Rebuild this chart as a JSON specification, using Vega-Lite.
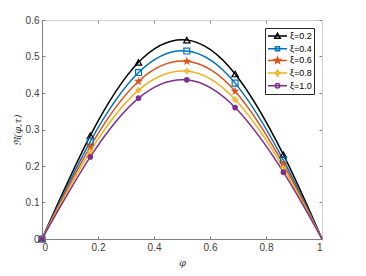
{
  "$schema": "https://vega.github.io/schema/vega-lite/v6.json",
  "width": 280,
  "height": 219,
  "autosize": {"type": "none"},
  "padding": {"left": 42, "top": 20, "right": 44, "bottom": 37},
  "background": "white",
  "config": {
    "view": {"stroke": null},
    "font": "Liberation Sans",
    "axis": {
      "grid": false,
      "labelFont": "Liberation Sans",
      "labelFontSize": 10,
      "labelColor": "#404040",
      "tickSize": -3,
      "tickColor": "#808080",
      "domainColor": "#808080",
      "titleColor": "#404040",
      "titleFont": "DejaVu Serif",
      "titleFontStyle": "italic",
      "titleFontWeight": "normal",
      "titleFontSize": 10
    }
  },
  "data": {
    "values": [
      {"x": 0, "y": 0, "xi": "0.2", "m": true},
      {"x": 0.1724, "y": 0.283, "xi": "0.2", "m": true},
      {"x": 0.3448, "y": 0.484, "xi": "0.2", "m": true},
      {"x": 0.5172, "y": 0.545, "xi": "0.2", "m": true},
      {"x": 0.6897, "y": 0.452, "xi": "0.2", "m": true},
      {"x": 0.8621, "y": 0.231, "xi": "0.2", "m": true},
      {"x": 1, "y": 0, "xi": "0.2", "m": false},
      {"x": 0, "y": 0, "xi": "0.4", "m": true},
      {"x": 0.1724, "y": 0.267, "xi": "0.4", "m": true},
      {"x": 0.3448, "y": 0.456, "xi": "0.4", "m": true},
      {"x": 0.5172, "y": 0.515, "xi": "0.4", "m": true},
      {"x": 0.6897, "y": 0.427, "xi": "0.4", "m": true},
      {"x": 0.8621, "y": 0.216, "xi": "0.4", "m": true},
      {"x": 1, "y": 0, "xi": "0.4", "m": false},
      {"x": 0, "y": 0, "xi": "0.6", "m": true},
      {"x": 0.1724, "y": 0.253, "xi": "0.6", "m": true},
      {"x": 0.3448, "y": 0.432, "xi": "0.6", "m": true},
      {"x": 0.5172, "y": 0.487, "xi": "0.6", "m": true},
      {"x": 0.6897, "y": 0.405, "xi": "0.6", "m": true},
      {"x": 0.8621, "y": 0.205, "xi": "0.6", "m": true},
      {"x": 1, "y": 0, "xi": "0.6", "m": false},
      {"x": 0, "y": 0, "xi": "0.8", "m": true},
      {"x": 0.1724, "y": 0.240, "xi": "0.8", "m": true},
      {"x": 0.3448, "y": 0.408, "xi": "0.8", "m": true},
      {"x": 0.5172, "y": 0.460, "xi": "0.8", "m": true},
      {"x": 0.6897, "y": 0.382, "xi": "0.8", "m": true},
      {"x": 0.8621, "y": 0.195, "xi": "0.8", "m": true},
      {"x": 1, "y": 0, "xi": "0.8", "m": false},
      {"x": 0, "y": 0, "xi": "1.0", "m": true},
      {"x": 0.1724, "y": 0.225, "xi": "1.0", "m": true},
      {"x": 0.3448, "y": 0.386, "xi": "1.0", "m": true},
      {"x": 0.5172, "y": 0.436, "xi": "1.0", "m": true},
      {"x": 0.6897, "y": 0.360, "xi": "1.0", "m": true},
      {"x": 0.8621, "y": 0.183, "xi": "1.0", "m": true},
      {"x": 1, "y": 0, "xi": "1.0", "m": false}
    ]
  },
  "layer": [
    {
      "mark": {"type": "line", "interpolate": "natural", "strokeWidth": 1.5},
      "encoding": {
        "x": {"field": "x", "type": "quantitative", "scale": {"domain": [0, 1], "nice": false},
          "axis": {"orient": "bottom", "values": [0, 0.2, 0.4, 0.6, 0.8, 1], "format": "~g", "title": "φ", "labelPadding": 6, "titlePadding": 5}},
        "y": {"field": "y", "type": "quantitative", "scale": {"domain": [0, 0.6], "nice": false},
          "axis": {"orient": "left", "values": [0, 0.1, 0.2, 0.3, 0.4, 0.5, 0.6], "format": "~g", "title": "ℜ(φ,τ)", "labelPadding": 6, "titlePadding": 3}},
        "color": {"field": "xi", "type": "nominal",
          "scale": {"domain": ["0.2", "0.4", "0.6", "0.8", "1.0"], "range": ["#000000", "#0072BD", "#D95319", "#EDB120", "#7E2F8E"]},
          "legend": null}
      }
    },
    {
      "transform": [{"filter": "datum.m"}],
      "mark": {"type": "point", "filled": false, "opacity": 1, "strokeWidth": 1.2},
      "encoding": {
        "x": {"field": "x", "type": "quantitative", "scale": {"domain": [0, 1], "nice": false},
          "axis": {"orient": "top", "values": [0, 0.2, 0.4, 0.6, 0.8, 1], "labels": false, "title": null, "domainColor": "#d0d0d0"}},
        "y": {"field": "y", "type": "quantitative", "scale": {"domain": [0, 0.6], "nice": false},
          "axis": {"orient": "right", "values": [0, 0.1, 0.2, 0.3, 0.4, 0.5, 0.6], "labels": false, "title": null, "domainColor": "#d0d0d0"}},
        "color": {"field": "xi", "type": "nominal",
          "scale": {"domain": ["0.2", "0.4", "0.6", "0.8", "1.0"], "range": ["#000000", "#0072BD", "#D95319", "#EDB120", "#7E2F8E"]},
          "legend": null},
        "fill": {"field": "xi", "type": "nominal",
          "scale": {"domain": ["0.2", "0.4", "0.6", "0.8", "1.0"], "range": ["transparent", "transparent", "#D95319", "transparent", "#7E2F8E"]},
          "legend": null},
        "shape": {"field": "xi", "type": "nominal",
          "scale": {"domain": ["0.2", "0.4", "0.6", "0.8", "1.0"], "range": ["triangle-up", "square", "M0,-1L0.2245,-0.309L0.9511,-0.309L0.3633,0.118L0.5878,0.809L0,0.382L-0.5878,0.809L-0.3633,0.118L-0.9511,-0.309L-0.2245,-0.309Z", "diamond", "circle"]},
          "legend": null},
        "size": {"field": "xi", "type": "ordinal",
          "scale": {"domain": ["0.2", "0.4", "0.6", "0.8", "1.0"], "range": [40, 20, 55, 28, 20]},
          "legend": null}
      }
    },
    {
      "transform": [{"filter": "datum.m"}],
      "mark": {"type": "point", "filled": false, "opacity": 0, "strokeWidth": 1.5},
      "encoding": {
        "x": {"field": "x", "type": "quantitative", "scale": {"domain": [0, 1], "nice": false}, "axis": null},
        "y": {"field": "y", "type": "quantitative", "scale": {"domain": [0, 0.6], "nice": false}, "axis": null},
        "color": {"field": "xi", "type": "nominal",
          "scale": {"domain": ["0.2", "0.4", "0.6", "0.8", "1.0"], "range": ["#000000", "#0072BD", "#D95319", "#EDB120", "#7E2F8E"]},
          "legend": {"title": null, "orient": "top-right", "offset": 8, "padding": 2, "strokeColor": "#262626", "fillColor": "white",
            "labelFont": "Liberation Sans", "labelFontSize": 9, "labelColor": "#000000", "labelOffset": 11, "rowPadding": 0.7,
            "symbolSize": 100, "symbolStrokeWidth": 1.5, "labelExpr": "'ξ=' + datum.label",
            "encode": {"symbols": {"update": {"opacity": {"value": 1}}}}}},
        "fill": {"field": "xi", "type": "nominal",
          "scale": {"domain": ["0.2", "0.4", "0.6", "0.8", "1.0"], "range": ["transparent", "transparent", "#D95319", "transparent", "#7E2F8E"]},
          "legend": {"title": null}},
        "shape": {"field": "xi", "type": "nominal",
          "scale": {"domain": ["0.2", "0.4", "0.6", "0.8", "1.0"], "range": [
            "M-1,0H2.8M0.9,-0.55L1.45,0.45L0.35,0.45Z",
            "M-1,0H2.8M0.5,-0.4H1.3V0.4H0.5Z",
            "M-1,0H2.8M0.9,-0.6L1.035,-0.185L1.471,-0.185L1.118,0.071L1.253,0.485L0.9,0.229L0.547,0.485L0.682,0.071L0.329,-0.185L0.765,-0.185Z",
            "M-1,0H2.8M0.9,-0.6L1.3,0L0.9,0.6L0.5,0Z",
            "M-1,0H2.8M1.35,0A0.45,0.45,0,1,1,0.45,0A0.45,0.45,0,1,1,1.35,0Z"]},
          "legend": {"title": null}}
      }
    }
  ],
  "resolve": {
    "scale": {"color": "independent", "fill": "independent", "shape": "independent", "size": "independent"},
    "axis": {"x": "independent", "y": "independent"}
  }
}
